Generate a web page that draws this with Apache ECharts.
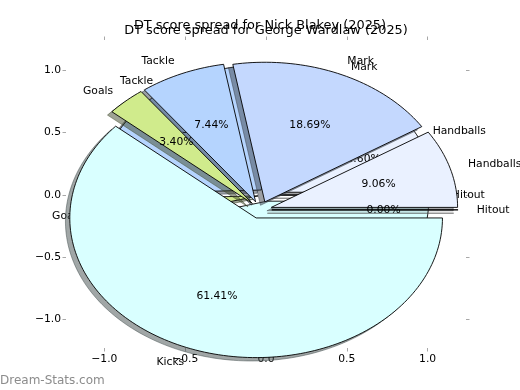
<!DOCTYPE html>
<html>
<head>
<meta charset="utf-8">
<script src="https://cdn.jsdelivr.net/npm/echarts@6/dist/echarts.min.js"></script>
<style>html,body{margin:0;padding:0;background:#fff}#c{width:520px;height:390px}</style>
</head>
<body>
<div id="c"></div>
<script>
// ---- data ----
const categories = ['Handballs', 'Mark', 'Tackle', 'Goals', 'Kicks', 'Hitout'];
const wardlawValues = [14.60, 5.69, 30.20, 3.67, 45.84, 0.00];
const blakeyValues = [9.06, 18.69, 7.44, 3.40, 61.41, 0.00];
const sliceColors = ['#eaf1ff', '#c4d8fe', '#b5d4fe', '#d0eb8c', '#d9ffff', '#f2f2f2'];
const tickValues = [-1.0, -0.5, 0.0, 0.5, 1.0];
const titleTexts = ['DT score spread for George Wardlaw (2025)', 'DT score spread for Nick Blakey (2025)'];

// ---- layout (not data) ----
const FONT = 'DejaVu Sans';
const LABEL_SIZE = 10.75;
const TITLE_SIZE = 12.9;
const X_RANGE = [-1.2376, 1.2376];
const Y_RANGE = [-1.227, 1.243];
const pieLayout = [
  { values: wardlawValues, cx: 0, cy: 0, rx: 1.0, ry: 1.0, explode: 0.05, shadow: [-0.026, -0.026], titleX: 266, titleY: 31 },
  { values: blakeyValues, cx: -0.036, cy: -0.119, rx: 1.153, ry: 1.12, explode: 0.062, shadow: [-0.027, -0.027], titleX: 260, titleY: 25.5 }
];

function shade(hex) {
  const n = parseInt(hex.slice(1), 16);
  const r = (n >> 16) & 255, g = (n >> 8) & 255, b = n & 255;
  return 'rgba(' + Math.round(r * 0.3) + ',' + Math.round(g * 0.3) + ',' + Math.round(b * 0.3) + ',0.5)';
}

function makeSlices(values) {
  const total = values.reduce((a, b) => a + b, 0);
  let a = 0;
  return values.map(v => {
    const t1 = a;
    a += v / total * 360;
    return { t1: t1, t2: a, mid: (t1 + a) / 2, pct: v / total * 100 };
  });
}

const D2R = Math.PI / 180;
function sliceOrigin(p, s, off) {
  const m = s.mid * D2R;
  return [p.cx + p.explode * p.rx * Math.cos(m) + off[0], p.cy + p.explode * p.ry * Math.sin(m) + off[1]];
}
function wedgePoints(api, p, s, off) {
  const o = sliceOrigin(p, s, off);
  const pts = [api.coord(o)];
  const n = Math.max(2, Math.ceil((s.t2 - s.t1) / 1.5));
  for (let k = 0; k <= n; k++) {
    const t = (s.t1 + (s.t2 - s.t1) * k / n) * D2R;
    pts.push(api.coord([o[0] + p.rx * Math.cos(t), o[1] + p.ry * Math.sin(t)]));
  }
  return pts;
}

const series = [];
let zc = 2;
pieLayout.forEach(p => {
  const sl = makeSlices(p.values);
  const data = p.values.map(v => [0, 0, v]);
  const base = { type: 'custom', coordinateSystem: 'cartesian2d', data: data, encode: { x: 0, y: 1 }, clip: false, silent: true, animation: false };
  // shadows
  series.push(Object.assign({}, base, {
    z: zc++,
    renderItem: (params, api) => {
      const i = params.dataIndex;
      const c = shade(sliceColors[i]);
      return { type: 'polygon', shape: { points: wedgePoints(api, p, sl[i], p.shadow) }, style: { fill: c, stroke: c, lineWidth: 1 } };
    }
  }));
  // wedges
  series.push(Object.assign({}, base, {
    z: zc++,
    renderItem: (params, api) => {
      const i = params.dataIndex;
      return { type: 'polygon', shape: { points: wedgePoints(api, p, sl[i], [0, 0]) }, style: { fill: sliceColors[i], stroke: '#000', lineWidth: 0.9 } };
    }
  }));
  // texts
  series.push(Object.assign({}, base, {
    z: zc++,
    renderItem: (params, api) => {
      const i = params.dataIndex;
      const s = sl[i];
      const o = sliceOrigin(p, s, [0, 0]);
      const m = s.mid * D2R;
      const lx = o[0] + 1.1 * p.rx * Math.cos(m), ly = o[1] + 1.1 * p.ry * Math.sin(m);
      const px = o[0] + 0.6 * p.rx * Math.cos(m), py = o[1] + 0.6 * p.ry * Math.sin(m);
      const lp = api.coord([lx, ly]);
      const pp = api.coord([px, py]);
      const align = (lx - p.cx) > 0 ? 'left' : 'right';
      return {
        type: 'group',
        children: [
          { type: 'text', x: lp[0], y: lp[1], style: { text: categories[i], fontFamily: FONT, fontSize: LABEL_SIZE, fill: '#000', align: align, verticalAlign: 'middle' } },
          { type: 'text', x: pp[0], y: pp[1], style: { text: p.values[i].toFixed(2) + '%', fontFamily: FONT, fontSize: LABEL_SIZE, fill: '#000', align: 'center', verticalAlign: 'middle' } }
        ]
      };
    }
  }));
});

const fmt = v => (v < 0 ? '\u2212' : '') + Math.abs(v).toFixed(1);
const tickStyle = { show: true, inside: false, length: 3.5, customValues: tickValues, lineStyle: { color: '#a8a8a8', width: 1 } };
const hiddenLine = { show: true, onZero: false, lineStyle: { color: 'rgba(0,0,0,0)', width: 0 } };

const option = {
  backgroundColor: '#ffffff',
  animation: false,
  grid: { left: 66, right: 54, top: 40, bottom: 42, containLabel: false },
  xAxis: [
    { type: 'value', position: 'bottom', min: X_RANGE[0], max: X_RANGE[1], axisLine: hiddenLine, splitLine: { show: false },
      axisTick: tickStyle, axisLabel: { customValues: tickValues, formatter: fmt, margin: 6, color: '#000', fontFamily: FONT, fontSize: LABEL_SIZE } },
    { type: 'value', position: 'top', min: X_RANGE[0], max: X_RANGE[1], axisLine: hiddenLine, splitLine: { show: false },
      axisTick: tickStyle, axisLabel: { show: false, customValues: tickValues } }
  ],
  yAxis: [
    { type: 'value', position: 'left', min: Y_RANGE[0], max: Y_RANGE[1], axisLine: hiddenLine, splitLine: { show: false },
      axisTick: tickStyle, axisLabel: { customValues: tickValues, formatter: fmt, margin: 5, color: '#000', fontFamily: FONT, fontSize: LABEL_SIZE } },
    { type: 'value', position: 'right', min: Y_RANGE[0], max: Y_RANGE[1], axisLine: hiddenLine, splitLine: { show: false },
      axisTick: tickStyle, axisLabel: { show: false, customValues: tickValues } }
  ],
  series: series,
  graphic: [
    { type: 'text', x: pieLayout[0].titleX, y: pieLayout[0].titleY, z: 100, style: { text: titleTexts[0], fontFamily: FONT, fontSize: TITLE_SIZE, fill: '#000', align: 'center', verticalAlign: 'middle' } },
    { type: 'text', x: pieLayout[1].titleX, y: pieLayout[1].titleY, z: 101, style: { text: titleTexts[1], fontFamily: FONT, fontSize: TITLE_SIZE, fill: '#000', align: 'center', verticalAlign: 'middle' } },
    { type: 'text', x: 0, y: 381, z: 102, style: { text: 'Dream-Stats.com', fontFamily: FONT, fontSize: 12, fill: '#8c8c8c', align: 'left', verticalAlign: 'middle' } }
  ]
};

const chart = echarts.init(document.getElementById('c'), null, { renderer: 'canvas' });
chart.setOption(option);
</script>
</body>
</html>
